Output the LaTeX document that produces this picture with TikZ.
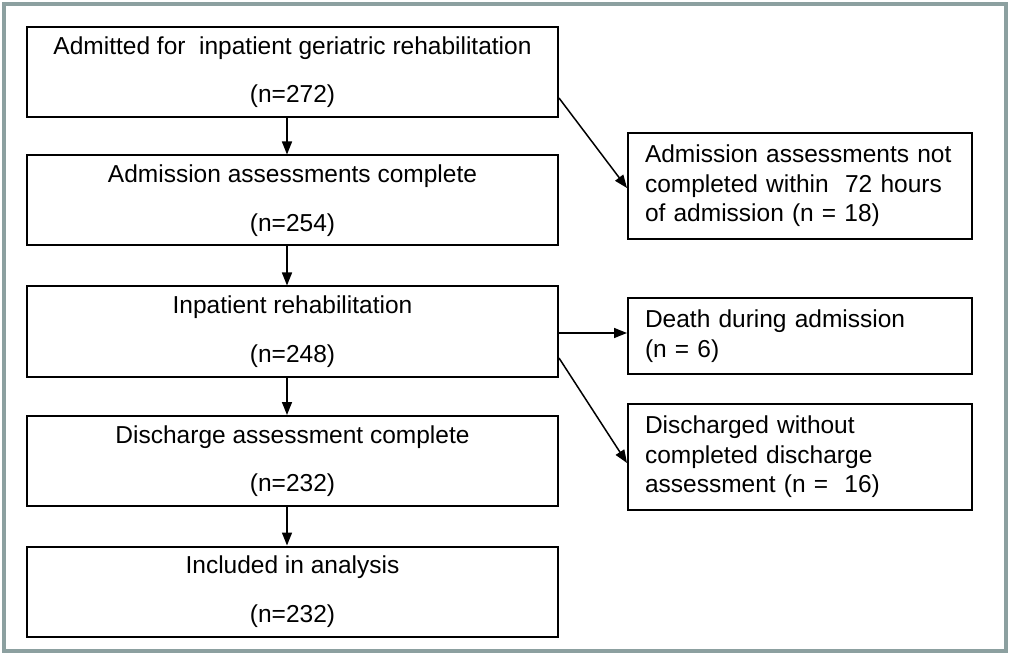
\documentclass[tikz,border=0pt]{standalone}
\usepackage{fontspec}
\setmainfont{Liberation Sans}
\usetikzlibrary{arrows.meta}
\definecolor{framegray}{RGB}{140,160,160}

\begin{document}
\begin{tikzpicture}[x=1pt,y=-1pt,
			every node/.style={draw,line width=2pt,font=\fontsize{24.5}{29.4}\selectfont},
			mainbox/.style={minimum width=531pt,minimum height=90pt,align=center,inner sep=0pt},
			sidebox/.style={minimum width=344pt,inner xsep=17pt,text width=310pt,align=left},
			arr/.style={-{Triangle[length=13pt,width=10pt]},line width=1.5pt}
			]
			\useasboundingbox (0,0) rectangle (1010,655);
			\draw[framegray,line width=4pt] (4,4) rectangle (1006,651);
			% left column
			\node[mainbox](admit) at (292.5,72){Admitted for\ \ inpatient geriatric rehabilitation\\[19pt](n=272)};
			\node[mainbox](assess) at (292.5,200.5){Admission assessments complete\\[19pt](n=254)};
			\node[mainbox](rehab) at (292.5,331.5){Inpatient rehabilitation\\[19pt](n=248)};
			\node[mainbox](discharge) at (292.5,461){Discharge assessment complete\\[19pt](n=232)};
			\node[mainbox](included) at (292.5,591.5){Included in analysis\\[19pt](n=232)};
			% right column
			\node[sidebox,minimum height=106pt](notdone) at (800,186){Admission assessments not\\completed within\ \ 72 hours\\of admission (n = 18)};
			\node[sidebox,minimum height=76pt](death) at (800,336){Death during admission\\(n = 6)};
			\node[sidebox,minimum height=106pt](nodischarge) at (800,457){Discharged without\\completed discharge\\assessment (n =\ \ 16)};
			% arrows
			\draw[arr]([xshift=-5.5pt]admit.south) -- ([xshift=-5.5pt]assess.north);
			\draw[arr]([xshift=-5.5pt]assess.south) -- ([xshift=-5.5pt]rehab.north);
			\draw[arr]([xshift=-5.5pt]rehab.south) -- ([xshift=-5.5pt]discharge.north);
			\draw[arr]([xshift=-5.5pt]discharge.south) -- ([xshift=-5.5pt]included.north);
			\draw[arr]([yshift=-26pt]admit.east) -- ([yshift=-2pt]notdone.west);
			\draw[arr]([yshift=-1.5pt]rehab.east) -- ([yshift=-1.5pt]rehab.east -| death.west);
			\draw[arr]([yshift=-26.5pt]rehab.east) -- ([yshift=-6pt]nodischarge.west);
		\end{tikzpicture}
\end{document}
